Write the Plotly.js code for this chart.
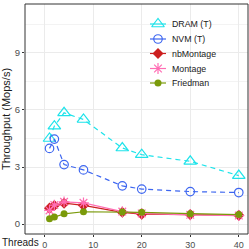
<!DOCTYPE html>
<html><head><meta charset="utf-8">
<script src="https://cdn.plot.ly/plotly-3.0.1.min.js"></script>
<style>html,body{margin:0;padding:0;background:#fff}#chart{width:249px;height:249px}</style>
</head><body><div id="chart"></div>
<script>
const threads = [1, 2, 4, 8, 16, 20, 30, 40];
const dramT = [4.5, 5.15, 5.85, 5.5, 4.0, 3.65, 3.3, 2.55];
const nvmT = [3.98, 4.47, 3.13, 2.85, 2.01, 1.84, 1.71, 1.66];
const nbMontage = [0.84, 0.98, 1.1, 0.98, 0.62, 0.52, 0.5, 0.46];
const montage = [0.72, 1.0, 1.17, 1.12, 0.66, 0.56, 0.49, 0.45];
const friedman = [0.28, 0.37, 0.54, 0.65, 0.64, 0.62, 0.55, 0.5];
const seriesNames = ["DRAM (T)", "NVM (T)", "nbMontage", "Montage", "Friedman"];
const yTicks = [0, 3, 6, 9];
const xTicks = [0, 10, 20, 30, 40];

// styles
const styles = [
  {line: {color: "#1ee3ea", width: 1.2, dash: "5px,4px"},
   marker: {symbol: "triangle-up-open", size: 11, color: "#1ee3ea", line: {width: 1.2, color: "#1ee3ea"}}},
  {line: {color: "#3d66f0", width: 1.2, dash: "5px,4px"},
   marker: {symbol: "circle-open", size: 8.5, color: "#3d66f0", line: {width: 1.2, color: "#3d66f0"}}},
  {line: {color: "#cc1f1f", width: 1.2},
   marker: {symbol: "diamond", size: 8.5, color: "#cc1f1f"}},
  {line: {color: "#ff6eb4", width: 1.2},
   marker: {symbol: "asterisk-open", size: 9, color: "#ff6eb4", line: {width: 1.2, color: "#ff6eb4"}}},
  {line: {color: "#7a9a0a", width: 1.2},
   marker: {symbol: "circle", size: 7, color: "#7a9a0a"}}
];
const seriesValues = [dramT, nvmT, nbMontage, montage, friedman];

const traces = seriesValues.map((vals, i) => ({
  x: threads, y: vals, name: seriesNames[i], mode: "lines+markers",
  line: styles[i].line, marker: styles[i].marker, showlegend: false
}));

// custom legend drawn on an overlay axis measured in pixels of the plot area
const plotW = 223, plotH = 230;
const legRowTop = [20, 35, 49.5, 64.5, 79];   // px from top of plot area
const legSymX = 133, legLineHalf = 8, legTextX = 145;
const annotations = [{text: "Threads", xref: "paper", yref: "paper", x: -0.113, y: 0, xanchor: "left",
  yanchor: "top", yshift: -1, showarrow: false, font: {size: 10, color: "#1a1a1a"}}];
seriesNames.forEach((nm, i) => {
  const yy = plotH - legRowTop[i];
  traces.push({x: [legSymX - legLineHalf, legSymX + legLineHalf], y: [yy, yy], xaxis: "x2", yaxis: "y2",
    mode: "lines", line: Object.assign({}, styles[i].line, {dash: "solid"}), showlegend: false, hoverinfo: "skip"});
  traces.push({x: [legSymX], y: [yy], xaxis: "x2", yaxis: "y2", mode: "markers",
    marker: styles[i].marker, showlegend: false, hoverinfo: "skip"});
  annotations.push({text: nm, xref: "x2", yref: "y2", x: legTextX, y: yy, xanchor: "left", yanchor: "middle",
    showarrow: false, font: {size: 8.8, color: "#1a1a1a"}});
});

const layout = {
  width: 249, height: 249,
  margin: {l: 25, r: 1, t: 4, b: 15, pad: 0},
  paper_bgcolor: "#fff", plot_bgcolor: "#fff",
  font: {family: "Liberation Sans, Arial, sans-serif", size: 10, color: "#4d4d4d"},
  showlegend: false,
  xaxis: {range: [-4.05, 41.9], tickvals: xTicks, ticktext: xTicks.map(String),
          showgrid: true, gridcolor: "#ebebeb", gridwidth: 1, zeroline: false,
          ticks: "outside", ticklen: 2, tickcolor: "#333", showline: false,
          tickfont: {size: 9, color: "#4d4d4d"}},
  yaxis: {range: [-0.52, 11.57], tickvals: yTicks, ticktext: yTicks.map(String),
          showgrid: true, gridcolor: "#ebebeb", gridwidth: 1, zeroline: false,
          minor: {dtick: 1.5, tick0: 0, showgrid: true, gridcolor: "#f3f3f3", gridwidth: 1},
          ticks: "outside", ticklen: 2, tickcolor: "#333", showline: false,
          tickfont: {size: 9.5, color: "#4d4d4d"},
          title: {text: "Throughput (Mops/s)", font: {size: 11, color: "#1a1a1a"}, standoff: 4}},
  xaxis2: {overlaying: "x", anchor: "y2", range: [0, plotW], visible: false, fixedrange: true},
  yaxis2: {overlaying: "y", anchor: "x2", range: [0, plotH], visible: false, fixedrange: true},
  shapes: [{type: "rect", xref: "paper", yref: "paper", x0: 0, x1: 1, y0: 0, y1: 1,
            line: {color: "#333", width: 1}, fillcolor: "rgba(0,0,0,0)"}],
  annotations: annotations
};
Plotly.newPlot("chart", traces, layout, {staticPlot: true, displayModeBar: false});
</script></body></html>
